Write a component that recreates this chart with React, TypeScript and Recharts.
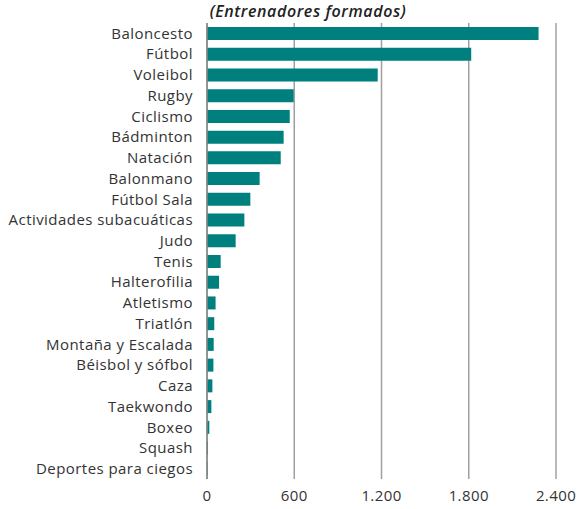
import React from "react";
import { Bar, BarChart, CartesianGrid, XAxis, YAxis } from "recharts";

const deportes = [
  "Baloncesto",
  "Fútbol",
  "Voleibol",
  "Rugby",
  "Ciclismo",
  "Bádminton",
  "Natación",
  "Balonmano",
  "Fútbol Sala",
  "Actividades subacuáticas",
  "Judo",
  "Tenis ",
  "Halterofilia",
  "Atletismo",
  "Triatlón",
  "Montaña y Escalada",
  "Béisbol y sófbol",
  "Caza",
  "Taekwondo",
  "Boxeo",
  "Squash",
  "Deportes para ciegos",
];

const entrenadores = [
  2280, 1817, 1174, 596, 569, 527, 507, 362, 298, 257, 197, 94, 83, 59, 50, 46,
  44, 37, 30, 16, 7, 4,
];

const xTicks = [0, 600, 1200, 1800, 2400];

const data = deportes.map((name, i) => ({ name, value: entrenadores[i] }));

const fmt = (v: number) => v.toString().replace(/\B(?=(\d{3})+(?!\d))/g, ".");

const font = "'Open Sans', sans-serif";

const App = () => {
  return (
    <div style={{ position: "absolute", left: 0, top: 0, width: 579, height: 509 }}>
      <div
        style={{
          position: "absolute",
          left: 0,
          width: 616,
          top: 1,
          textAlign: "center",
          fontFamily: font,
          fontStyle: "italic",
          fontWeight: 600,
          fontSize: 16,
          letterSpacing: 0.6,
          lineHeight: "20px",
          color: "#222",
        }}
      >
        (Entrenadores formados)
      </div>
      <BarChart
        width={579}
        height={509}
        data={data}
        layout="vertical"
        margin={{ top: 23, right: 23, bottom: 0, left: 0 }}
        barCategoryGap={4}
      >
        <CartesianGrid horizontal={false} stroke="#a0a0a0" strokeWidth={1.5} />
        <XAxis
          type="number"
          domain={[0, 2400]}
          ticks={xTicks}
          tickFormatter={fmt}
          axisLine={false}
          tickLine={false}
          height={30}
          tickMargin={5}
          tick={{ fill: "#333", fontSize: 15, fontFamily: font, letterSpacing: 0.4 }}
        />
        <YAxis
          type="category"
          dataKey="name"
          width={207}
          interval={0}
          tickLine={false}
          axisLine={{ stroke: "#888", strokeWidth: 1.5 }}
          tickMargin={8}
          tick={{ fill: "#333", fontSize: 15, fontFamily: font, letterSpacing: 0.45 }}
        />
        <Bar dataKey="value" fill="#007f7f" barSize={13} isAnimationActive={false} />
      </BarChart>
    </div>
  );
};

export default App;
